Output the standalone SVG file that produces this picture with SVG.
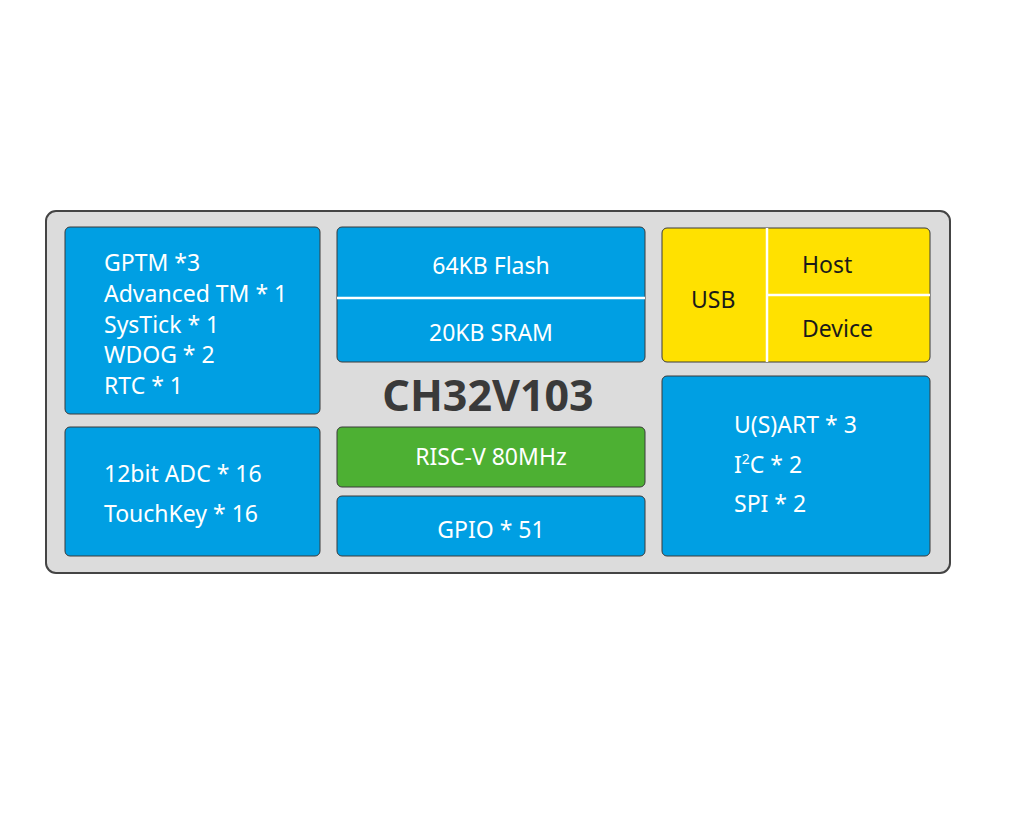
<svg xmlns="http://www.w3.org/2000/svg" width="1024" height="819" viewBox="0 0 1024 819">
<style>
.b{fill:#009fe3;stroke:#3a3a3a;stroke-width:1}
.y{fill:#ffe100;stroke:#3a3a3a;stroke-width:1}
.g{fill:#4db033;stroke:#3a3a3a;stroke-width:1}
text{font-family:"Noto Sans","Open Sans",sans-serif;font-size:23px}
.w{fill:#fff}
.k{fill:#1a1a1a}
.sep{stroke:#fff;stroke-width:2.5}
</style>
<rect width="1024" height="819" fill="#fff"/>
<g id="chip"><rect x="46" y="211" width="904" height="362" rx="10" fill="#dcdcdc" stroke="#444" stroke-width="2"/>
<text x="488" y="411" text-anchor="middle" style="font-size:43px;font-weight:bold;fill:#3a3a3a">CH32V103</text></g>
<g id="timers"><rect class="b" x="65" y="227" width="255" height="187" rx="5"/>
<text class="w" x="104" y="271">GPTM *3</text>
<text class="w" x="104" y="302">Advanced TM * 1</text>
<text class="w" x="104" y="333">SysTick  * 1</text>
<text class="w" x="104" y="363">WDOG * 2</text>
<text class="w" x="104" y="394">RTC * 1</text></g>
<g id="adc"><rect class="b" x="65" y="427" width="255" height="129" rx="5"/>
<text class="w" x="104" y="482">12bit ADC * 16</text>
<text class="w" x="104" y="522">TouchKey * 16</text></g>
<g id="mem"><rect class="b" x="337" y="227" width="308" height="135" rx="5"/>
<line class="sep" x1="337" y1="298" x2="645" y2="298"/>
<text class="w" x="491" y="274" text-anchor="middle">64KB Flash</text>
<text class="w" x="491" y="341" text-anchor="middle">20KB SRAM</text></g>
<g id="core"><rect class="g" x="337" y="427" width="308" height="60" rx="5"/>
<text class="w" x="491" y="465" text-anchor="middle">RISC-V  80MHz</text></g>
<g id="gpio"><rect class="b" x="337" y="496" width="308" height="60" rx="5"/>
<text class="w" x="491" y="538" text-anchor="middle">GPIO * 51</text></g>
<g id="usb"><rect class="y" x="662" y="228" width="268" height="134" rx="5"/>
<line class="sep" x1="767" y1="228" x2="767" y2="362"/>
<line class="sep" x1="767" y1="295" x2="930" y2="295"/>
<text class="k" x="691" y="308">USB</text>
<text class="k" x="802" y="273">Host</text>
<text class="k" x="802" y="337">Device</text></g>
<g id="comm"><rect class="b" x="662" y="376" width="268" height="180" rx="5"/>
<text class="w" x="734" y="433">U(S)ART * 3</text>
<text class="w" x="734" y="473">I<tspan dy="-9" style="font-size:14px">2</tspan><tspan dy="9">C * 2</tspan></text>
<text class="w" x="734" y="512">SPI * 2</text></g>
<g id="connectors"/>
</svg>
